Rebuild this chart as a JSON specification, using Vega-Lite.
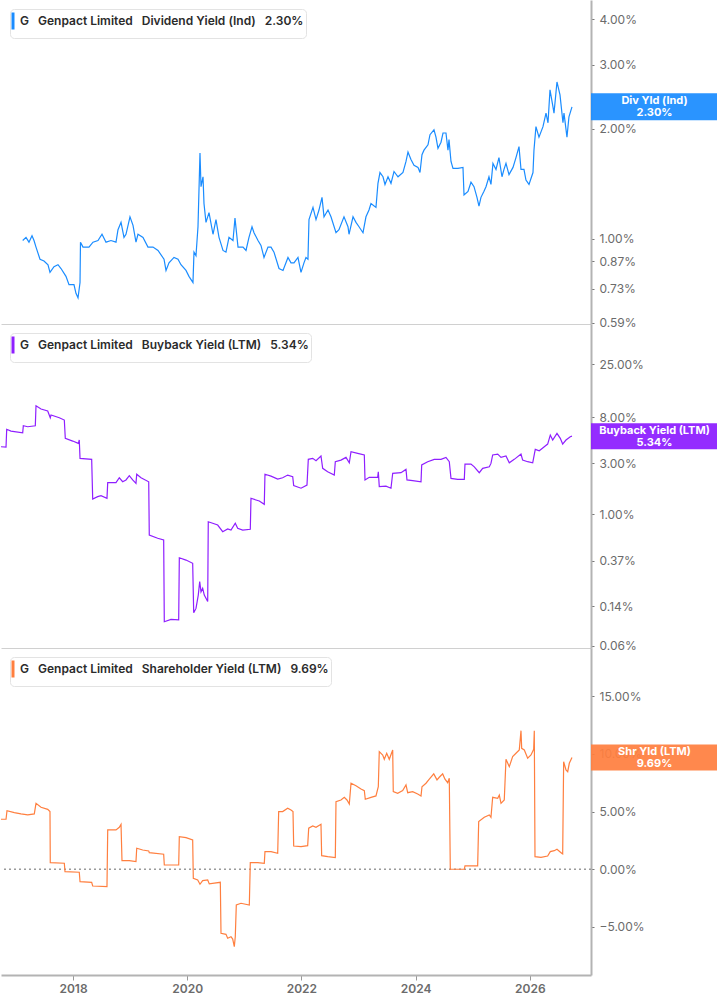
{
  "$schema": "https://vega.github.io/schema/vega-lite/v6.json",
  "description": "Genpact Limited: dividend, buyback and shareholder yield, three stacked panels.",
  "padding": 0,
  "background": "white",
  "spacing": 0,
  "bounds": "flush",
  "resolve": {"scale": {"color": "independent"}},
  "datasets": {
    "div": [
      {"t":2017.119,"v":0.99},{"t":2017.177,"v":1.01},{"t":2017.229,"v":0.98},{"t":2017.282,"v":1.02},{"t":2017.317,"v":0.99},
      {"t":2017.352,"v":0.95},{"t":2017.422,"v":0.88},{"t":2017.492,"v":0.87},{"t":2017.562,"v":0.85},{"t":2017.597,"v":0.81},
      {"t":2017.667,"v":0.84},{"t":2017.737,"v":0.85},{"t":2017.790,"v":0.83},{"t":2017.877,"v":0.79},{"t":2017.930,"v":0.75},
      {"t":2018.017,"v":0.75},{"t":2018.052,"v":0.71},{"t":2018.088,"v":0.69},{"t":2018.123,"v":0.76},{"t":2018.131,"v":0.98},
      {"t":2018.175,"v":0.95},{"t":2018.228,"v":0.95},{"t":2018.280,"v":0.95},{"t":2018.350,"v":0.98},{"t":2018.438,"v":0.99},
      {"t":2018.508,"v":1.03},{"t":2018.578,"v":0.98},{"t":2018.665,"v":0.99},{"t":2018.753,"v":0.98},{"t":2018.788,"v":1.06},
      {"t":2018.841,"v":1.11},{"t":2018.893,"v":1.01},{"t":2018.928,"v":1.03},{"t":2018.998,"v":1.15},{"t":2019.051,"v":1.09},
      {"t":2019.103,"v":0.98},{"t":2019.138,"v":1.03},{"t":2019.226,"v":1.01},{"t":2019.313,"v":0.95},{"t":2019.401,"v":0.95},
      {"t":2019.489,"v":0.93},{"t":2019.594,"v":0.88},{"t":2019.629,"v":0.82},{"t":2019.681,"v":0.86},{"t":2019.769,"v":0.89},
      {"t":2019.839,"v":0.88},{"t":2019.891,"v":0.85},{"t":2019.979,"v":0.82},{"t":2020.031,"v":0.79},{"t":2020.101,"v":0.76},
      {"t":2020.119,"v":0.92},{"t":2020.154,"v":0.90},{"t":2020.189,"v":1.08},{"t":2020.224,"v":1.72},{"t":2020.242,"v":1.39},
      {"t":2020.277,"v":1.48},{"t":2020.294,"v":1.25},{"t":2020.329,"v":1.11},{"t":2020.382,"v":1.18},{"t":2020.452,"v":1.03},
      {"t":2020.504,"v":1.13},{"t":2020.557,"v":1.01},{"t":2020.627,"v":0.93},{"t":2020.679,"v":0.92},{"t":2020.732,"v":1.01},
      {"t":2020.802,"v":0.99},{"t":2020.837,"v":1.14},{"t":2020.890,"v":0.95},{"t":2020.977,"v":0.95},{"t":2021.030,"v":0.93},
      {"t":2021.082,"v":1.01},{"t":2021.135,"v":1.08},{"t":2021.170,"v":1.04},{"t":2021.240,"v":0.99},{"t":2021.292,"v":0.96},
      {"t":2021.345,"v":0.89},{"t":2021.415,"v":0.95},{"t":2021.468,"v":0.95},{"t":2021.520,"v":0.92},{"t":2021.608,"v":0.83},
      {"t":2021.678,"v":0.82},{"t":2021.765,"v":0.89},{"t":2021.818,"v":0.86},{"t":2021.870,"v":0.86},{"t":2021.940,"v":0.89},
      {"t":2021.993,"v":0.81},{"t":2022.045,"v":0.86},{"t":2022.080,"v":0.89},{"t":2022.115,"v":0.88},{"t":2022.133,"v":1.13},
      {"t":2022.203,"v":1.22},{"t":2022.256,"v":1.13},{"t":2022.308,"v":1.20},{"t":2022.361,"v":1.30},{"t":2022.396,"v":1.15},
      {"t":2022.466,"v":1.20},{"t":2022.518,"v":1.15},{"t":2022.606,"v":1.04},{"t":2022.658,"v":1.06},{"t":2022.746,"v":1.15},
      {"t":2022.816,"v":1.08},{"t":2022.834,"v":1.03},{"t":2022.904,"v":1.15},{"t":2022.956,"v":1.11},{"t":2023.009,"v":1.08},
      {"t":2023.079,"v":1.04},{"t":2023.131,"v":1.15},{"t":2023.184,"v":1.20},{"t":2023.219,"v":1.25},{"t":2023.306,"v":1.22},
      {"t":2023.341,"v":1.42},{"t":2023.376,"v":1.52},{"t":2023.429,"v":1.48},{"t":2023.464,"v":1.41},{"t":2023.517,"v":1.48},
      {"t":2023.569,"v":1.42},{"t":2023.622,"v":1.53},{"t":2023.692,"v":1.48},{"t":2023.779,"v":1.52},{"t":2023.832,"v":1.63},
      {"t":2023.867,"v":1.73},{"t":2023.919,"v":1.65},{"t":2023.972,"v":1.59},{"t":2024.042,"v":1.57},{"t":2024.077,"v":1.52},
      {"t":2024.112,"v":1.70},{"t":2024.147,"v":1.75},{"t":2024.217,"v":1.81},{"t":2024.252,"v":1.93},{"t":2024.322,"v":1.99},
      {"t":2024.357,"v":1.90},{"t":2024.392,"v":1.77},{"t":2024.445,"v":1.84},{"t":2024.480,"v":1.95},{"t":2024.532,"v":1.95},
      {"t":2024.567,"v":1.75},{"t":2024.585,"v":1.87},{"t":2024.620,"v":1.63},{"t":2024.655,"v":1.56},{"t":2024.742,"v":1.56},
      {"t":2024.830,"v":1.57},{"t":2024.848,"v":1.32},{"t":2024.918,"v":1.35},{"t":2024.970,"v":1.43},{"t":2025.023,"v":1.39},
      {"t":2025.075,"v":1.30},{"t":2025.110,"v":1.23},{"t":2025.145,"v":1.30},{"t":2025.198,"v":1.35},{"t":2025.233,"v":1.39},
      {"t":2025.285,"v":1.48},{"t":2025.320,"v":1.41},{"t":2025.355,"v":1.61},{"t":2025.408,"v":1.55},{"t":2025.460,"v":1.67},
      {"t":2025.513,"v":1.48},{"t":2025.548,"v":1.55},{"t":2025.583,"v":1.61},{"t":2025.636,"v":1.50},{"t":2025.706,"v":1.57},
      {"t":2025.758,"v":1.67},{"t":2025.811,"v":1.79},{"t":2025.846,"v":1.55},{"t":2025.898,"v":1.55},{"t":2025.933,"v":1.45},
      {"t":2025.986,"v":1.41},{"t":2026.056,"v":1.52},{"t":2026.073,"v":1.75},{"t":2026.108,"v":2.03},{"t":2026.161,"v":1.90},
      {"t":2026.231,"v":2.03},{"t":2026.284,"v":2.21},{"t":2026.319,"v":2.08},{"t":2026.354,"v":2.56},{"t":2026.406,"v":2.30},
      {"t":2026.424,"v":2.21},{"t":2026.476,"v":2.69},{"t":2026.529,"v":2.48},{"t":2026.581,"v":2.08},{"t":2026.599,"v":2.21},
      {"t":2026.651,"v":1.90},{"t":2026.686,"v":2.16},{"t":2026.739,"v":2.30}
    ],
    "buy": [
      {"t":2016.739,"v":4.26},{"t":2016.827,"v":4.23},{"t":2016.839,"v":6.19},{"t":2016.914,"v":5.96},{"t":2017.119,"v":5.75},
      {"t":2017.130,"v":6.68},{"t":2017.207,"v":6.54},{"t":2017.340,"v":6.68},{"t":2017.352,"v":10.26},{"t":2017.440,"v":9.56},
      {"t":2017.557,"v":9.16},{"t":2017.602,"v":7.93},{"t":2017.615,"v":8.41},{"t":2017.760,"v":7.93},{"t":2017.848,"v":7.55},
      {"t":2017.865,"v":5.10},{"t":2017.995,"v":4.81},{"t":2018.093,"v":4.58},{"t":2018.110,"v":4.92},{"t":2018.123,"v":3.32},
      {"t":2018.327,"v":3.25},{"t":2018.345,"v":1.39},{"t":2018.432,"v":1.46},{"t":2018.490,"v":1.49},{"t":2018.595,"v":1.41},
      {"t":2018.608,"v":1.97},{"t":2018.753,"v":1.97},{"t":2018.811,"v":2.19},{"t":2018.870,"v":2.01},{"t":2018.928,"v":2.09},
      {"t":2018.986,"v":2.29},{"t":2019.045,"v":2.09},{"t":2019.103,"v":1.94},{"t":2019.116,"v":2.36},{"t":2019.191,"v":2.19},
      {"t":2019.326,"v":2.01},{"t":2019.336,"v":0.642},{"t":2019.483,"v":0.598},{"t":2019.588,"v":0.576},{"t":2019.599,"v":0.100},
      {"t":2019.716,"v":0.105},{"t":2019.851,"v":0.104},{"t":2019.862,"v":0.394},{"t":2019.979,"v":0.375},{"t":2020.096,"v":0.350},
      {"t":2020.114,"v":0.121},{"t":2020.154,"v":0.133},{"t":2020.194,"v":0.177},{"t":2020.219,"v":0.236},{"t":2020.242,"v":0.190},
      {"t":2020.271,"v":0.205},{"t":2020.299,"v":0.177},{"t":2020.359,"v":0.154},{"t":2020.369,"v":0.853},{"t":2020.446,"v":0.825},
      {"t":2020.534,"v":0.795},{"t":2020.622,"v":0.689},{"t":2020.709,"v":0.730},{"t":2020.767,"v":0.714},{"t":2020.842,"v":0.825},
      {"t":2020.884,"v":0.741},{"t":2020.972,"v":0.714},{"t":2021.105,"v":0.725},{"t":2021.117,"v":1.41},{"t":2021.205,"v":1.36},
      {"t":2021.263,"v":1.33},{"t":2021.350,"v":1.24},{"t":2021.362,"v":2.36},{"t":2021.468,"v":2.27},{"t":2021.585,"v":2.13},
      {"t":2021.672,"v":2.19},{"t":2021.760,"v":2.32},{"t":2021.848,"v":2.24},{"t":2021.865,"v":1.85},{"t":2021.993,"v":1.75},
      {"t":2022.098,"v":1.87},{"t":2022.121,"v":3.25},{"t":2022.198,"v":3.32},{"t":2022.256,"v":3.16},{"t":2022.343,"v":3.49},
      {"t":2022.373,"v":2.68},{"t":2022.460,"v":2.49},{"t":2022.576,"v":2.32},{"t":2022.594,"v":3.09},{"t":2022.693,"v":3.20},
      {"t":2022.781,"v":3.39},{"t":2022.839,"v":3.02},{"t":2022.869,"v":3.83},{"t":2022.986,"v":3.70},{"t":2023.102,"v":3.57},
      {"t":2023.114,"v":2.09},{"t":2023.189,"v":2.21},{"t":2023.336,"v":2.21},{"t":2023.347,"v":2.49},{"t":2023.364,"v":1.81},
      {"t":2023.481,"v":1.83},{"t":2023.569,"v":1.75},{"t":2023.599,"v":2.41},{"t":2023.744,"v":2.44},{"t":2023.832,"v":2.62},
      {"t":2023.849,"v":2.09},{"t":2023.949,"v":2.06},{"t":2024.095,"v":2.01},{"t":2024.107,"v":2.88},{"t":2024.212,"v":3.09},
      {"t":2024.327,"v":3.25},{"t":2024.445,"v":3.25},{"t":2024.532,"v":3.39},{"t":2024.590,"v":3.09},{"t":2024.620,"v":2.16},
      {"t":2024.737,"v":2.12},{"t":2024.853,"v":2.12},{"t":2024.865,"v":2.94},{"t":2024.970,"v":2.94},{"t":2025.028,"v":2.77},
      {"t":2025.115,"v":2.44},{"t":2025.175,"v":2.68},{"t":2025.291,"v":2.77},{"t":2025.320,"v":2.98},{"t":2025.350,"v":3.57},
      {"t":2025.438,"v":3.64},{"t":2025.496,"v":3.39},{"t":2025.583,"v":3.49},{"t":2025.641,"v":3.02},{"t":2025.728,"v":3.25},
      {"t":2025.846,"v":3.64},{"t":2025.875,"v":3.20},{"t":2025.963,"v":3.09},{"t":2026.051,"v":3.02},{"t":2026.096,"v":4.03},
      {"t":2026.166,"v":3.91},{"t":2026.254,"v":4.26},{"t":2026.313,"v":4.51},{"t":2026.359,"v":5.47},{"t":2026.401,"v":4.92},
      {"t":2026.476,"v":5.68},{"t":2026.534,"v":5.10},{"t":2026.576,"v":4.51},{"t":2026.634,"v":4.92},{"t":2026.709,"v":5.28},
      {"t":2026.739,"v":5.34}
    ],
    "shr": [
      {"t":2016.739,"v":4.34},{"t":2016.827,"v":4.34},{"t":2016.844,"v":5.08},{"t":2016.972,"v":4.91},{"t":2017.089,"v":4.80},
      {"t":2017.207,"v":4.71},{"t":2017.322,"v":4.80},{"t":2017.352,"v":5.72},{"t":2017.440,"v":5.38},{"t":2017.557,"v":5.20},
      {"t":2017.597,"v":5.00},{"t":2017.602,"v":0.57},{"t":2017.848,"v":0.52},{"t":2017.860,"v":-0.21},{"t":2018.110,"v":-0.26},
      {"t":2018.123,"v":-1.08},{"t":2018.327,"v":-1.13},{"t":2018.345,"v":-1.45},{"t":2018.595,"v":-1.51},{"t":2018.608,"v":3.41},
      {"t":2018.753,"v":3.41},{"t":2018.811,"v":3.64},{"t":2018.841,"v":3.90},{"t":2018.858,"v":0.75},{"t":2018.986,"v":0.75},
      {"t":2019.103,"v":0.66},{"t":2019.116,"v":1.82},{"t":2019.221,"v":1.67},{"t":2019.326,"v":1.59},{"t":2019.336,"v":1.44},
      {"t":2019.588,"v":1.30},{"t":2019.599,"v":0.37},{"t":2019.851,"v":0.37},{"t":2019.862,"v":2.83},{"t":2019.979,"v":2.74},
      {"t":2020.096,"v":2.54},{"t":2020.107,"v":-0.78},{"t":2020.184,"v":-0.93},{"t":2020.224,"v":-1.30},{"t":2020.271,"v":-0.99},
      {"t":2020.359,"v":-0.93},{"t":2020.387,"v":-1.27},{"t":2020.475,"v":-1.21},{"t":2020.580,"v":-1.13},{"t":2020.592,"v":-5.55},
      {"t":2020.679,"v":-5.64},{"t":2020.709,"v":-5.98},{"t":2020.767,"v":-5.85},{"t":2020.797,"v":-6.05},{"t":2020.825,"v":-6.71},
      {"t":2020.842,"v":-5.85},{"t":2020.860,"v":-3.10},{"t":2020.942,"v":-2.95},{"t":2021.088,"v":-3.10},{"t":2021.105,"v":0.57},
      {"t":2021.235,"v":0.57},{"t":2021.350,"v":0.52},{"t":2021.362,"v":1.53},{"t":2021.468,"v":1.53},{"t":2021.585,"v":1.39},
      {"t":2021.602,"v":5.00},{"t":2021.672,"v":5.00},{"t":2021.760,"v":5.29},{"t":2021.818,"v":5.14},{"t":2021.853,"v":5.00},
      {"t":2021.865,"v":2.02},{"t":2021.993,"v":1.96},{"t":2022.110,"v":2.05},{"t":2022.128,"v":3.56},{"t":2022.198,"v":3.76},
      {"t":2022.256,"v":3.64},{"t":2022.343,"v":3.90},{"t":2022.355,"v":1.18},{"t":2022.461,"v":1.09},{"t":2022.594,"v":1.01},
      {"t":2022.606,"v":5.86},{"t":2022.693,"v":6.01},{"t":2022.751,"v":6.24},{"t":2022.798,"v":6.01},{"t":2022.839,"v":5.66},
      {"t":2022.869,"v":7.46},{"t":2022.956,"v":7.25},{"t":2023.044,"v":6.96},{"t":2023.102,"v":6.82},{"t":2023.119,"v":6.07},
      {"t":2023.219,"v":6.24},{"t":2023.306,"v":6.36},{"t":2023.347,"v":7.16},{"t":2023.364,"v":10.20},{"t":2023.424,"v":9.91},
      {"t":2023.452,"v":9.54},{"t":2023.494,"v":10.06},{"t":2023.539,"v":9.54},{"t":2023.599,"v":10.35},{"t":2023.609,"v":6.73},
      {"t":2023.686,"v":6.59},{"t":2023.774,"v":6.82},{"t":2023.832,"v":7.31},{"t":2023.862,"v":6.64},{"t":2023.949,"v":6.73},
      {"t":2024.037,"v":6.53},{"t":2024.095,"v":6.36},{"t":2024.112,"v":7.16},{"t":2024.182,"v":7.46},{"t":2024.240,"v":7.81},
      {"t":2024.318,"v":8.27},{"t":2024.375,"v":7.75},{"t":2024.415,"v":7.98},{"t":2024.474,"v":8.27},{"t":2024.515,"v":7.81},
      {"t":2024.562,"v":7.51},{"t":2024.590,"v":7.89},{"t":2024.608,"v":0.00},{"t":2024.853,"v":0.00},{"t":2024.865,"v":0.29},
      {"t":2025.087,"v":0.29},{"t":2025.105,"v":4.13},{"t":2025.203,"v":4.51},{"t":2025.291,"v":4.71},{"t":2025.320,"v":4.51},
      {"t":2025.350,"v":6.24},{"t":2025.438,"v":6.16},{"t":2025.466,"v":6.44},{"t":2025.496,"v":5.72},{"t":2025.553,"v":6.01},
      {"t":2025.583,"v":9.54},{"t":2025.641,"v":8.90},{"t":2025.700,"v":9.77},{"t":2025.758,"v":10.06},{"t":2025.816,"v":10.35},
      {"t":2025.846,"v":12.02},{"t":2025.858,"v":10.49},{"t":2025.904,"v":10.35},{"t":2025.963,"v":9.63},{"t":2026.021,"v":9.91},
      {"t":2026.068,"v":10.41},{"t":2026.079,"v":12.02},{"t":2026.091,"v":1.09},{"t":2026.196,"v":1.04},{"t":2026.313,"v":1.15},
      {"t":2026.359,"v":1.53},{"t":2026.429,"v":1.61},{"t":2026.476,"v":1.73},{"t":2026.558,"v":1.39},{"t":2026.576,"v":1.33},
      {"t":2026.593,"v":9.33},{"t":2026.634,"v":8.61},{"t":2026.664,"v":8.46},{"t":2026.692,"v":9.19},{"t":2026.739,"v":9.69}
    ]
  },
  "vconcat": [
    {
      "width": 590,
      "height": 324,
      "encoding": {
        "y": {
          "field": "v",
          "type": "quantitative",
          "scale": {"type": "log", "domain": [0.585, 4.51], "nice": false},
          "axis": {"orient": "right", "values": [0.59, 0.73, 0.87, 1, 2, 3, 4], "labelExpr": "format(datum.value, '.2f') + '%'"}
        }
      },
      "layer": [
        {
          "data": {"name": "div"},
          "mark": {"type": "line", "clip": true, "strokeWidth": 1.2},
          "encoding": {
            "x": {"field": "t", "type": "quantitative", "scale": {"domain": [2016.739, 2027.072], "nice": false, "zero": false},
                  "axis": {"labels": false, "ticks": false, "domainColor": "#d0d0d0", "domainWidth": 1}},
            "color": {"datum": "G\u2002 Genpact Limited\u2002 Dividend Yield (Ind)\u2002 2.30%", "scale": {"range": ["#1a8cff"]}}
          }
        },
        {
          "data": {"values": [{"v": 2.30, "label": "Div Yld (Ind)\n2.30%"}]},
          "mark": {"type": "tick", "orient": "horizontal", "thickness": 27, "xOffset": 63.5, "color": "#1a8cff", "opacity": 0.93},
          "encoding": {"x": {"value": "width"}, "size": {"value": 127}}
        },
        {
          "data": {"values": [{"v": 2.30, "label": "Div Yld (Ind)\n2.30%"}]},
          "mark": {"type": "text", "xOffset": 63.5, "dy": -6, "align": "center", "baseline": "middle", "lineBreak": "\n", "lineHeight": 12, "fontSize": 11, "fontWeight": "bold", "color": "white"},
          "encoding": {"x": {"value": "width"}, "text": {"field": "label"}}
        }
      ]
    },
    {
      "width": 590,
      "height": 324,
      "encoding": {
        "y": {
          "field": "v",
          "type": "quantitative",
          "scale": {"type": "log", "domain": [0.0569, 59.2], "nice": false},
          "axis": {"orient": "right", "values": [0.06, 0.14, 0.37, 1, 3, 8, 25], "labelExpr": "format(datum.value, '.2f') + '%'"}
        }
      },
      "layer": [
        {
          "data": {"name": "buy"},
          "mark": {"type": "line", "clip": true, "strokeWidth": 1.2},
          "encoding": {
            "x": {"field": "t", "type": "quantitative", "scale": {"domain": [2016.739, 2027.072], "nice": false, "zero": false},
                  "axis": {"labels": false, "ticks": false, "domainColor": "#d0d0d0", "domainWidth": 1}},
            "color": {"datum": "G\u2002 Genpact Limited\u2002 Buyback Yield (LTM)\u2002 5.34%", "scale": {"range": ["#8f1fff"]}}
          }
        },
        {
          "data": {"values": [{"v": 5.34, "label": "Buyback Yield (LTM)\n5.34%"}]},
          "mark": {"type": "tick", "orient": "horizontal", "thickness": 26, "xOffset": 63.5, "color": "#8c1cff", "opacity": 0.93},
          "encoding": {"x": {"value": "width"}, "size": {"value": 127}}
        },
        {
          "data": {"values": [{"v": 5.34, "label": "Buyback Yield (LTM)\n5.34%"}]},
          "mark": {"type": "text", "xOffset": 63.5, "dy": -5, "align": "center", "baseline": "middle", "lineBreak": "\n", "lineHeight": 12, "fontSize": 11, "fontWeight": "bold", "color": "white"},
          "encoding": {"x": {"value": "width"}, "text": {"field": "label"}}
        }
      ]
    },
    {
      "width": 590,
      "height": 327,
      "encoding": {
        "y": {
          "field": "v",
          "type": "quantitative",
          "scale": {"domain": [-9.17, 19.19], "nice": false, "zero": false},
          "axis": {"orient": "right", "values": [-5, 0, 5, 10, 15], "labelExpr": "format(datum.value, '.2f') + '%'"}
        }
      },
      "layer": [
        {
          "data": {"values": [{"v": 0}]},
          "mark": {"type": "rule", "color": "#9a9a9a", "strokeWidth": 1.6, "strokeDash": [2, 3]},
          "encoding": {}
        },
        {
          "data": {"name": "shr"},
          "mark": {"type": "line", "clip": true, "strokeWidth": 1.2},
          "encoding": {
            "x": {"field": "t", "type": "quantitative", "scale": {"domain": [2016.739, 2027.072], "nice": false, "zero": false},
                  "axis": {"values": [2018, 2020, 2022, 2024, 2026], "format": "d", "labelFontWeight": 600, "domainColor": "#b3b3b3", "domainWidth": 2, "tickColor": "#999999", "tickSize": 5, "labelPadding": 3}},
            "color": {"datum": "G\u2002 Genpact Limited\u2002 Shareholder Yield (LTM)\u2002 9.69%", "scale": {"range": ["#ff7f3f"]}}
          }
        },
        {
          "data": {"values": [{"v": 9.69, "label": "Shr Yld (LTM)\n9.69%"}]},
          "mark": {"type": "tick", "orient": "horizontal", "thickness": 26, "xOffset": 63.5, "color": "#ff7f3f", "opacity": 0.93},
          "encoding": {"x": {"value": "width"}, "size": {"value": 127}}
        },
        {
          "data": {"values": [{"v": 9.69, "label": "Shr Yld (LTM)\n9.69%"}]},
          "mark": {"type": "text", "xOffset": 63.5, "dy": -6, "align": "center", "baseline": "middle", "lineBreak": "\n", "lineHeight": 12, "fontSize": 11, "fontWeight": "bold", "color": "white"},
          "encoding": {"x": {"value": "width"}, "text": {"field": "label"}}
        }
      ]
    }
  ],
  "config": {
    "font": "Inter",
    "view": {"stroke": null},
    "axis": {
      "title": null,
      "grid": false,
      "labelFont": "Inter",
      "labelFontSize": 12,
      "labelColor": "#6b6b6b",
      "domainColor": "#b3b3b3",
      "tickColor": "#777777"
    },
    "axisY": {"domainWidth": 2, "tickSize": 3, "labelPadding": 5},
    "legend": {
      "orient": "top-left",
      "offset": 9,
      "padding": 2,
      "title": null,
      "strokeColor": "#e3e3e3",
      "fillColor": "white",
      "cornerRadius": 4,
      "symbolType": "M0,-1V1",
      "symbolSize": 289,
      "symbolStrokeWidth": 3,
      "symbolOffset": -9,
      "labelOffset": -3,
      "labelFont": "Inter",
      "labelFontSize": 12,
      "labelFontWeight": 600,
      "labelColor": "#2b2b2b",
      "labelLimit": 400
    }
  }
}
